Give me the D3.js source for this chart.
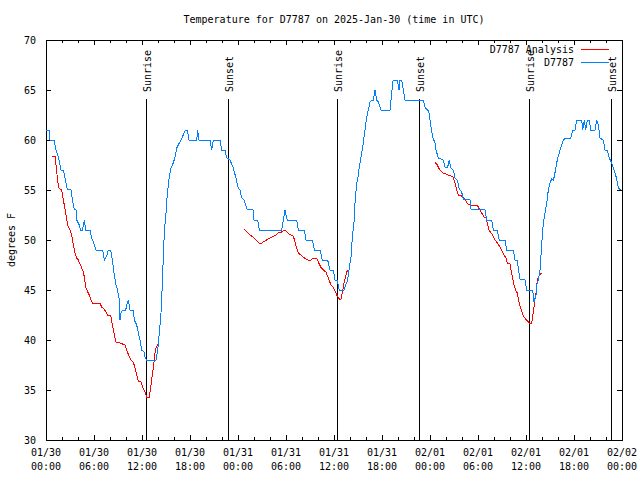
<!DOCTYPE html>
<html>
<head>
<meta charset="utf-8">
<script src="https://cdn.jsdelivr.net/npm/d3@7"></script>
<style>
  body { margin: 0; background: #fff; }
  svg text { font-family: "DejaVu Sans Mono", monospace; font-size: 10px; fill: #000; }
  .crisp { shape-rendering: crispEdges; }
</style>
</head>
<body>
<svg id="chart" width="640" height="480"></svg>
<script>
// hours since 2025-01-30 00:00 UTC
const START = Date.UTC(2025, 0, 30);
const END = Date.UTC(2025, 1, 2);

const stationHours = [
  0, 0.375, 0.5, 1.0, 1.25, 1.54, 1.75, 1.875, 2.16, 2.375, 2.66, 3.125, 3.34, 3.54, 3.75, 3.84,
  4.16, 4.34, 4.56, 4.79, 4.96, 5.5, 5.71, 5.91, 6.25, 7.09, 7.29, 7.59, 7.79, 8.09, 8.34, 8.5,
  8.75, 8.91, 9.125, 9.25, 9.375, 9.54, 9.96, 10.16, 10.29, 10.5, 10.91, 11.04, 11.34, 11.54,
  11.75, 11.96, 12.25, 12.375, 12.59, 13.75, 13.91, 14.04, 14.16, 14.34, 14.46, 14.56, 14.66,
  14.79, 15.0, 15.16, 15.41, 15.625, 15.91, 16.125, 16.34, 16.66, 16.96, 17.25, 17.46, 17.66,
  17.875, 18.84, 18.96, 19.125, 20.5, 20.71, 20.91, 21.75, 21.96, 22.375, 22.59, 23.0, 23.41,
  23.71, 24.04, 24.25, 24.46, 24.79, 25.09, 25.91, 26.0, 26.46, 26.66, 29.46, 29.66, 29.875,
  30.0, 30.16, 31.34, 31.54, 32.29, 32.5, 33.31, 33.54, 34.25, 34.54, 35.21, 35.5, 35.91,
  36.125, 36.41, 36.66, 37.25, 37.46, 37.71, 37.875, 38.125, 38.29, 38.5, 38.625, 38.84, 39.04,
  39.16, 39.46, 39.66, 39.875, 40.09, 40.29, 40.5, 40.71, 40.91, 41.125, 41.34, 41.54, 41.875,
  43.0, 43.125, 43.34, 43.41, 43.91, 44.125, 44.25, 44.46, 44.66, 44.875, 47.16, 47.375, 47.66,
  47.81, 48.0, 48.19, 48.375, 48.625, 48.75, 49.04, 49.66, 49.875, 50.21, 50.41, 50.59, 50.91,
  51.125, 51.41, 51.66, 51.96, 52.16, 53.0, 53.125, 54.875, 55.09, 55.71, 55.91, 56.41, 56.66,
  57.375, 57.59, 58.41, 58.625, 58.91, 59.04, 59.25, 59.875, 60.09, 60.84, 61.0, 61.25, 61.34,
  61.54, 61.75, 61.96, 62.16, 62.375, 62.59, 62.79, 63.0, 63.21, 63.44, 63.69, 63.91, 64.25,
  64.66, 64.96, 65.59, 65.84, 66.125, 66.34, 66.96, 67.09, 67.29, 67.46, 67.66, 67.91, 68.09,
  68.625, 68.84, 69.04, 69.25, 69.66, 69.875, 70.16, 70.41, 70.71, 71.0, 71.31, 71.54, 71.875
];
const stationTemps = [
  61, 61, 60, 60, 59, 58.3, 57.5, 57, 57, 56.2, 55.1, 55, 53.8, 53.1, 53, 52,
  51.5, 51, 51, 52, 51, 51, 50.2, 49.8, 49, 49, 48, 48.4, 49, 49, 47.7, 46.7,
  45.5, 45.1, 44.2, 42, 42.7, 43, 43, 43.7, 44, 43, 43, 42, 41.5, 40.7,
  40, 39, 38.8, 38.3, 38, 38, 38.8, 39.5, 40.7, 42.2, 44, 46, 48.2,
  50.8, 52.7, 54.6, 56.3, 57.2, 57.7, 58.3, 59.2, 59.7, 60.1, 60.7, 61, 61,
  60, 60, 61, 60, 60, 59, 60, 60, 59, 59, 58.2, 58, 57.2,
  56.3, 55.2, 55, 54.2, 54, 53.1, 53, 52, 52, 51, 51, 52, 53,
  52.5, 52, 52, 51, 51, 50, 50, 49, 49, 48, 48, 47, 47,
  46, 46, 45, 45, 45.5, 46, 47, 48.3, 50.3, 51.8, 53.7, 55.7, 56.5,
  57.3, 58.7, 59.7, 61, 62.3, 63, 63.8, 64, 64, 65, 64, 63.8, 63,
  63, 64, 65.7, 66, 66, 65, 66, 66, 65, 64, 64, 63.3, 63,
  63, 62, 61, 60.2, 59.7, 59, 58.2, 58, 57.3, 57.3, 58, 57.2, 57,
  56.2, 56, 55.1, 54.8, 54.1, 54, 53.1, 53, 52, 52, 51, 51, 50,
  50, 49, 49, 48, 48, 47.2, 46.1, 46, 45, 45, 43.8, 44.5, 45.5,
  46, 47, 49.5, 51.7, 52.7, 53.7, 55, 55.7, 56.1, 56, 57, 58, 59,
  60, 60.2, 60.2, 61, 61, 62, 62, 61, 62, 61, 62, 62, 61,
  61, 62, 61.5, 60.2, 60, 59, 59, 58.2, 57.7, 57, 56.2, 55.2, 55
];

// analysis series, null marks a gap
const analysisHours = [
  0.79, 1.125, 1.25, 1.41, 1.56, 1.75, 1.96, 2.16, 2.29, 2.46, 2.59, 2.79, 3.0, 3.21, 3.41,
  3.625, 3.84, 4.04, 4.25, 4.46, 4.66, 4.79, 4.96, 5.21, 5.41, 5.59, 5.79, 6.75, 6.96, 7.25,
  7.5, 7.71, 8.09, 8.34, 8.5, 8.75, 9.25, 9.875, 10.16, 10.5, 10.71, 10.91, 11.125, 11.34,
  11.54, 11.875, 12.09, 12.375, 12.59, 12.91, 13.09, 13.25, 13.41, 13.625, 13.75, 13.96,
  null,
  24.79, 25.09, 25.5, 25.91, 26.25, 26.66, 26.96, 27.375, 27.79, 28.21, 28.75, 29.04, 29.46,
  29.75, 30.0, 30.21, 30.59, 30.91, 31.125, 31.34, 31.54, 31.84, 32.16, 32.5, 32.71, 33.125,
  33.41, 33.84, 34.04, 34.34, 34.66, 35.0, 35.29, 35.625, 35.91, 36.125, 36.41, 36.66,
  36.875, 37.04, 37.25, 37.46, 37.59, 37.79,
  null,
  48.625, 48.91, 49.16, 49.46, 49.66, 50.29, 50.91, 51.125, 51.34, 51.54, 51.96, 52.375,
  52.71, 53.0, 53.91, 54.16, 54.46, 54.75, 55.0, 55.16, 55.375, 55.625, 55.84, 56.125,
  56.41, 56.66, 56.96, 57.25, 57.5, 57.66, 58.0, 58.125, 58.29, 58.5, 58.75, 58.91, 59.125,
  59.34, 59.54, 59.75, 60.29, 60.375, 60.71, 61.0, 61.125, 61.25, 61.41, 61.66, 61.96
];
const analysisTemps = [
  58.4, 58.4, 57.5, 56.3, 55.3, 55.1, 55, 54, 53.5, 52.7, 52, 51.3, 51, 50.5, 49.5,
  48.7, 48.2, 48, 47.6, 47.2, 46.8, 46.3, 45.3, 44.8, 44.5, 44.1, 43.7, 43.7, 43.3, 43.1,
  42.8, 42.5, 42.5, 41.3, 40.7, 39.8, 39.7, 39.5, 38.8, 38.2, 37.9, 37.8, 37.2, 36.5,
  35.9, 35.8, 35.3, 34.8, 34.3, 34.3, 35.3, 36.3, 37.2, 38.7, 39.2, 39.6,
  null,
  51.1, 50.8, 50.5, 50.3, 50, 49.7, 49.7, 49.9, 50.1, 50.3, 50.5, 50.7, 50.8,
  51, 50.9, 50.7, 50.5, 50.4, 49.8, 49.2, 48.7, 48.5, 48.3, 48.1, 48, 48,
  48.2, 48.2, 47.8, 47.3, 47, 46.8, 46.2, 45.5, 45.3, 44.9, 44.4, 44.1,
  44.1, 44.7, 45.7, 46.3, 46.8, 47,
  null,
  57.8, 57.5, 57.1, 56.8, 56.7, 56.5, 56.3, 55.7, 55, 54.5, 54.4, 54.1,
  53.6, 53.5, 53.5, 53.1, 52.7, 52.3, 52.2, 51.7, 51, 50.7, 50.5, 50,
  49.7, 49.4, 49, 48.5, 48.2, 47.7, 47.6, 47, 46.3, 45.5, 44.9, 44.7, 43.8,
  43.2, 42.7, 42.3, 41.8, 41.7, 41.7, 43.3, 44.2, 44.7, 46, 46.5, 46.7
];

const sunriseHours = [12.54, 36.41, 60.41];
const sunsetHours = [22.79, 46.66, 70.66];
const yTicks = [30, 35, 40, 45, 50, 55, 60, 65, 70];
const seriesNames = ["D7787 Analysis", "D7787"];
const seriesColors = ["#ff0000", "#0080ff"];

const toDate = (h) => new Date(START + h * 3600000);

const svg = d3.select("#chart");
const x = d3.scaleUtc().domain([new Date(START), new Date(END)]).range([46, 622]);
const y = d3.scaleLinear().domain([30, 70]).range([440, 40]);

const majorTimes = d3.utcHour.every(6).range(new Date(START), new Date(END + 1));
const minorTimes = d3.utcHour.every(2).range(new Date(START), new Date(END + 1));

svg.append("text")
  .attr("x", 334).attr("y", 23)
  .attr("text-anchor", "middle")
  .text("Temperature for D7787 on 2025-Jan-30 (time in UTC)");

// tick marks on all four sides
function ticks(axis, transform) {
  const g = svg.append("g").attr("class", "crisp").attr("transform", transform).call(axis);
  g.select(".domain").remove();
  g.selectAll("text").remove();
  g.selectAll("line").attr("stroke", "#000");
}
ticks(d3.axisBottom(x).tickValues(minorTimes).tickSize(-3), "translate(0,440)");
ticks(d3.axisBottom(x).tickValues(majorTimes).tickSize(-5), "translate(0,440)");
ticks(d3.axisTop(x).tickValues(minorTimes).tickSize(-3), "translate(0,40)");
ticks(d3.axisTop(x).tickValues(majorTimes).tickSize(-5), "translate(0,40)");
ticks(d3.axisLeft(y).tickValues(yTicks).tickSize(-5), "translate(46,0)");
ticks(d3.axisRight(y).tickValues(yTicks).tickSize(-5), "translate(622,0)");

svg.append("rect")
  .attr("class", "crisp")
  .attr("x", 46).attr("y", 40)
  .attr("width", 576).attr("height", 400)
  .attr("fill", "none").attr("stroke", "#000");

svg.append("g").selectAll("text")
  .data(yTicks)
  .join("text")
  .attr("x", 36)
  .attr("y", (d) => y(d) + 3.5)
  .attr("text-anchor", "end")
  .text((d) => d);

const xLabels = svg.append("g").selectAll("text")
  .data(majorTimes)
  .join("text")
  .attr("text-anchor", "middle");
xLabels.append("tspan")
  .attr("x", (d) => x(d)).attr("y", 456)
  .text(d3.utcFormat("%m/%d"));
xLabels.append("tspan")
  .attr("x", (d) => x(d)).attr("y", 470)
  .text(d3.utcFormat("%H:%M"));

svg.append("text")
  .attr("transform", "translate(15,240) rotate(-90)")
  .attr("text-anchor", "middle")
  .text("degrees F");

// sunrise / sunset markers
const sunEvents = sunriseHours.map((h) => ({ h, label: "Sunrise" }))
  .concat(sunsetHours.map((h) => ({ h, label: "Sunset" })));

svg.append("g").attr("class", "crisp").selectAll("line")
  .data(sunEvents)
  .join("line")
  .attr("x1", (d) => Math.round(x(toDate(d.h))) + 0.5)
  .attr("x2", (d) => Math.round(x(toDate(d.h))) + 0.5)
  .attr("y1", 99).attr("y2", 440)
  .attr("stroke", "#000");

svg.append("g").selectAll("text")
  .data(sunEvents)
  .join("text")
  .attr("transform", (d) => `translate(${Math.round(x(toDate(d.h))) + 4.5},92) rotate(-90)`)
  .text((d) => d.label);

// data lines
const line = d3.line()
  .defined((d) => d[0] !== null && d[1] !== null)
  .x((d) => x(toDate(d[0])))
  .y((d) => y(d[1]));

const analysisData = analysisHours.map((h, i) => [h, analysisTemps[i]]);
const stationData = stationHours.map((h, i) => [h, stationTemps[i]]);

svg.append("path")
  .datum(analysisData)
  .attr("class", "crisp")
  .attr("d", line)
  .attr("fill", "none")
  .attr("stroke", seriesColors[0]);

svg.append("path")
  .datum(stationData)
  .attr("class", "crisp")
  .attr("d", line)
  .attr("fill", "none")
  .attr("stroke", seriesColors[1]);

// key
const key = svg.append("g").selectAll("g")
  .data(seriesNames)
  .join("g")
  .attr("transform", (d, i) => `translate(0,${49 + i * 13})`);
key.append("text")
  .attr("x", 574).attr("y", 4)
  .attr("text-anchor", "end")
  .text((d) => d);
key.append("line")
  .attr("class", "crisp")
  .attr("x1", 581).attr("x2", 609)
  .attr("y1", 0.5).attr("y2", 0.5)
  .attr("stroke", (d, i) => seriesColors[i]);
</script>
</body>
</html>
